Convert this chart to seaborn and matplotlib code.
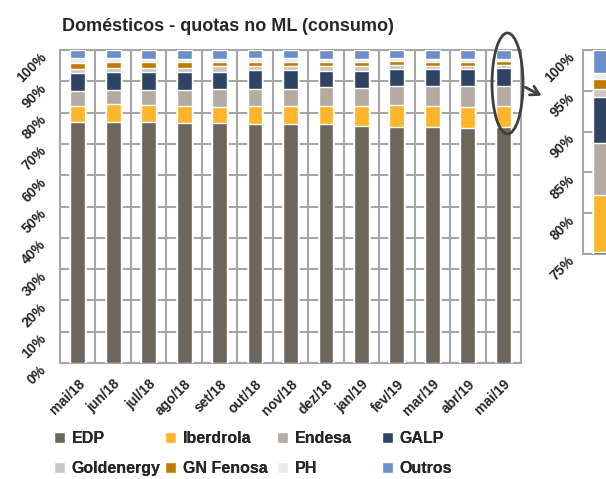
import numpy as np
import pandas as pd
import seaborn as sns
from matplotlib import pyplot as plt
from matplotlib.patches import Ellipse, Patch

meses = ['mai/18', 'jun/18', 'jul/18', 'ago/18', 'set/18', 'out/18', 'nov/18',
         'dez/18', 'jan/19', 'fev/19', 'mar/19', 'abr/19', 'mai/19']

# quotas (%)
edp        = [77.1, 77.1, 77.1, 76.8, 76.8, 76.4, 76.4, 76.4, 75.9, 75.5, 75.5, 75.2, 75.3]
iberdrola  = [5.1, 5.5, 5.2, 5.4, 5.0, 5.9, 5.9, 5.9, 6.4, 6.8, 6.8, 6.6, 6.9]
endesa     = [4.7, 4.7, 5.0, 5.1, 5.9, 5.4, 5.4, 5.9, 5.8, 6.2, 6.2, 6.7, 6.4]
galp       = [5.9, 5.7, 5.7, 5.7, 5.4, 6.0, 6.0, 5.3, 5.3, 5.4, 5.4, 5.4, 5.6]
goldenergy = [1.2, 1.4, 1.4, 1.4, 1.8, 1.3, 1.3, 1.7, 1.7, 1.3, 1.2, 1.2, 1.0]
gn_fenosa  = [2.0, 1.8, 1.7, 1.7, 1.3, 1.3, 1.3, 1.2, 1.2, 1.4, 1.2, 1.2, 1.3]
ph         = [1.5, 1.2, 1.1, 1.1, 1.1, 1.3, 1.3, 0.9, 0.9, 0.7, 0.9, 0.9, 0.7]
outros     = [2.6, 2.6, 2.8, 2.8, 2.8, 2.6, 2.6, 2.9, 2.9, 2.7, 2.9, 2.9, 2.8]

series = ['EDP', 'Iberdrola', 'Endesa', 'GALP', 'Goldenergy', 'GN Fenosa', 'PH', 'Outros']
cores = ['#6e655c', '#fdb52b', '#b4aaa2', '#2e4462', '#cdc6c1', '#c07a00', '#ebebeb', '#6b8fc6']

df = pd.DataFrame(dict(zip(series, [edp, iberdrola, endesa, galp, goldenergy,
                                    gn_fenosa, ph, outros])), index=meses)
# normalizar para 100%
df = df.div(df.sum(axis=1), axis=0) * 100
cum = df.cumsum(axis=1)

sns.set_style('white')
plt.rcParams['font.family'] = ['Liberation Sans', 'DejaVu Sans']
plt.rcParams['font.weight'] = 'bold'

grid_c = '#a6a6a6'

fig = plt.figure(figsize=(6.06, 4.79), dpi=100)
W, H = 606, 479
ax = fig.add_axes([60 / W, 1 - 363 / H, 461 / W, 313 / H])
ax2 = fig.add_axes([583 / W, 1 - 254 / H, 35.5 / W, 204 / H])

def stacked(a, dados):
    # desenha de cima para baixo, cada camada tapa a anterior
    for s, c in reversed(list(zip(series, cores))):
        sns.barplot(x=dados.index, y=dados[s].values, color=c, width=0.42,
                    saturation=1, ax=a, zorder=3)

stacked(ax, cum)
stacked(ax2, cum.iloc[[-1]])

for a in (ax, ax2):
    a.set_xlim(-0.5, len(a.get_xticks()) - 0.5)
    for sp in a.spines.values():
        sp.set_visible(True)
        sp.set_color(grid_c)
        sp.set_linewidth(1.5)
    a.set_xlabel('')
    a.set_ylabel('')
    a.tick_params(length=0)
    a.grid(axis='y', color=grid_c, lw=1.5, zorder=0)

ax.set_ylim(0, 100)
ax.set_yticks(np.arange(0, 101, 10))
ax.set_yticklabels([f'{v}%' for v in range(0, 101, 10)], rotation=45,
                   ha='right', va='top', rotation_mode='anchor', fontsize=10)
ax.tick_params(axis='y', pad=15)
ax.set_xticks(range(len(meses)))
ax.set_xticklabels(meses, rotation=45, ha='right', va='top',
                   rotation_mode='anchor', fontsize=10)
ax.tick_params(axis='x', pad=10)
ax.set_xticks(np.arange(0.5, len(meses) - 1, 1), minor=True)
ax.grid(axis='x', which='minor', color=grid_c, lw=1.5, zorder=0)

ax2.set_ylim(75, 100)
ax2.set_yticks(np.arange(75, 101, 5))
ax2.set_yticklabels([f'{v}%' for v in range(75, 101, 5)], rotation=45,
                    ha='right', va='top', rotation_mode='anchor', fontsize=10)
ax2.tick_params(axis='y', pad=11)
ax2.set_xticks([])

fig.text(62 / W, 1 - 31 / H, 'Domésticos - quotas no ML (consumo)',
         fontsize=13, fontweight='bold', va='baseline')

# elipse e seta a destacar o ultimo mes
fig.add_artist(Ellipse((507.5 / W, 1 - 83.5 / H), 31 / W, 101 / H,
                       transform=fig.transFigure, fill=False,
                       edgecolor='#3f3f3f', lw=2, zorder=10))
ax.annotate('', xy=(544 / W, 1 - 97 / H), xytext=(523 / W, 1 - 86 / H),
            xycoords='figure fraction', textcoords='figure fraction',
            arrowprops=dict(arrowstyle='->,head_length=0.6,head_width=0.35',
                            color='#3f3f3f', lw=2))

# legenda: uma coluna de cada vez para acertar as posicoes
col_x = [54, 165, 277, 382]
for j, x in enumerate(col_x):
    hs = [Patch(facecolor=cores[i], label=series[i]) for i in (j, j + 4)]
    leg = fig.legend(handles=hs, loc='upper left', bbox_to_anchor=(x / W, 1 - 431 / H),
                     frameon=False, handlelength=0.7, handleheight=0.7,
                     handletextpad=0.4, labelspacing=0.95, borderpad=0,
                     borderaxespad=0, prop={'weight': 'bold', 'size': 11.5})
    fig.add_artist(leg)

fig.savefig('out.png', dpi=100)
